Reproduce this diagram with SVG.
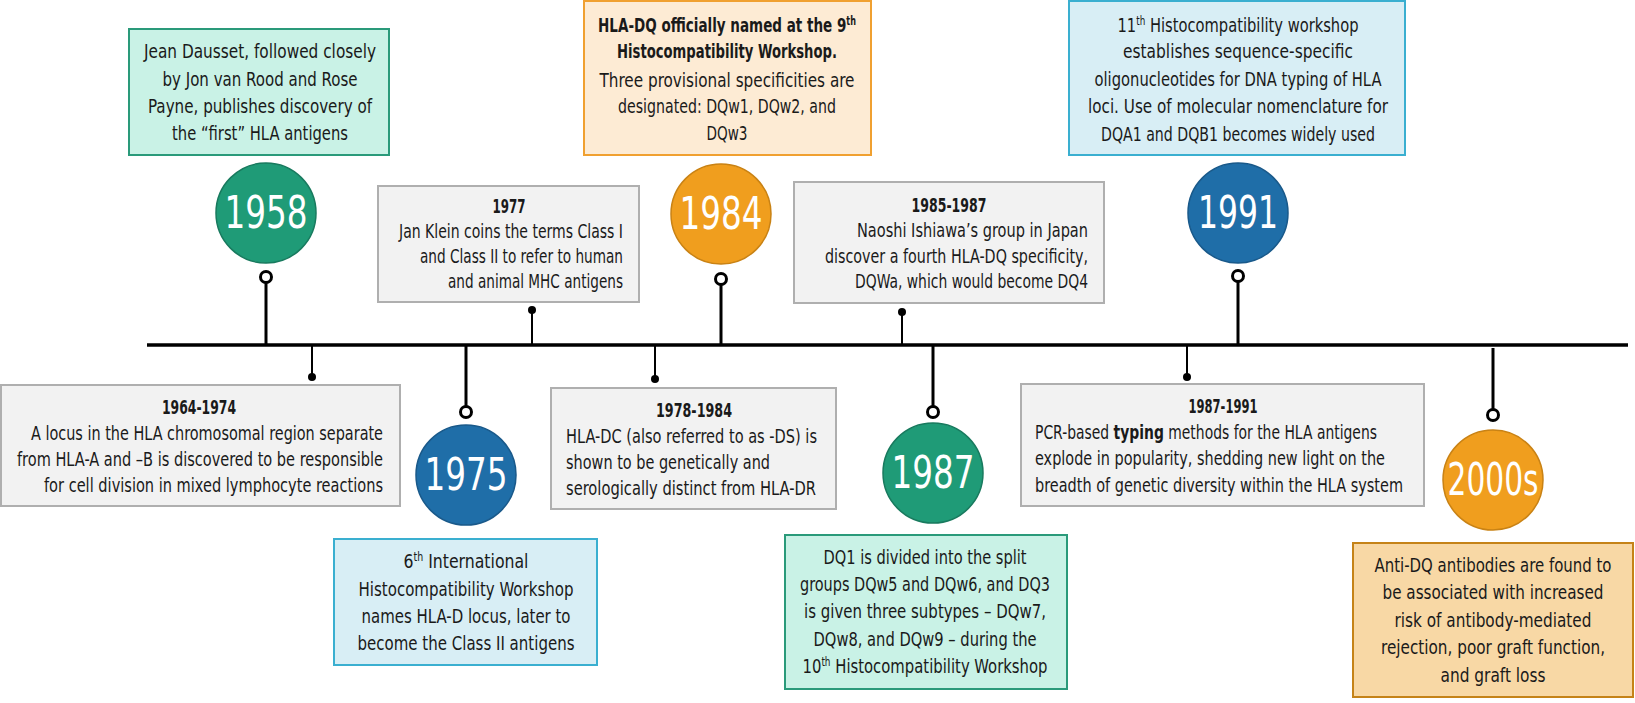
<svg xmlns="http://www.w3.org/2000/svg" width="1635" height="703" viewBox="0 0 1635 703">
<style>
text{font-family:"Liberation Sans Narrow","DejaVu Sans Condensed","Roboto",sans-serif;font-size:20px;fill:#1a1a1a}
.b{font-weight:bold}
.m{text-anchor:middle}
.e{text-anchor:end}
.yr{font-size:44px;fill:#ffffff;text-anchor:middle}
.sup{font-size:12px}
.gray{fill:#f2f2f2;stroke:#afafaf;stroke-width:2}
.gbox{fill:#c9f2e6;stroke:#2a9a7a;stroke-width:2}
.bbox{fill:#d8eef5;stroke:#3aafd0;stroke-width:2}
.obox{fill:#fdebd4;stroke:#f0a030;stroke-width:2}
.o2box{fill:#f8d8a5;stroke:#c58318;stroke-width:2}
.gc{fill:#1f9b77;stroke:#187a5e;stroke-width:1.5}
.bc{fill:#1f6ea8;stroke:#19598a;stroke-width:1.5}
.oc{fill:#f09e1e;stroke:#c98214;stroke-width:1.5}
.stem{stroke:#000;stroke-width:3;fill:none}
.thin{stroke:#000;stroke-width:2;fill:none}
.ring{fill:#fff;stroke:#000;stroke-width:3}
.dot{fill:#000}
</style>
<g id="connectors">
<line x1="147" y1="345" x2="1628" y2="345" stroke="#000" stroke-width="3.5"/>
<line class="stem" x1="266" y1="283" x2="266" y2="345"/>
<circle class="ring" cx="266" cy="277" r="5.5"/>
<line class="thin" x1="532" y1="310" x2="532" y2="345"/>
<circle class="dot" cx="532" cy="310" r="4"/>
<line class="stem" x1="721" y1="285" x2="721" y2="345"/>
<circle class="ring" cx="721" cy="279" r="5.5"/>
<line class="thin" x1="902" y1="312" x2="902" y2="345"/>
<circle class="dot" cx="902" cy="312" r="4"/>
<line class="stem" x1="1238" y1="282" x2="1238" y2="345"/>
<circle class="ring" cx="1238" cy="276" r="5.5"/>
<line class="thin" x1="312" y1="345" x2="312" y2="377"/>
<circle class="dot" cx="312" cy="377" r="4"/>
<line class="stem" x1="466" y1="345" x2="466" y2="406"/>
<circle class="ring" cx="466" cy="412" r="5.5"/>
<line class="thin" x1="655" y1="345" x2="655" y2="379"/>
<circle class="dot" cx="655" cy="379" r="4"/>
<line class="stem" x1="933" y1="345" x2="933" y2="406"/>
<circle class="ring" cx="933" cy="412" r="5.5"/>
<line class="thin" x1="1187" y1="345" x2="1187" y2="377"/>
<circle class="dot" cx="1187" cy="377" r="4"/>
<line class="stem" x1="1493" y1="348" x2="1493" y2="409"/>
<circle class="ring" cx="1493" cy="415" r="5.5"/>
</g>
<g id="n1958">
<rect class="gbox" x="129" y="29" width="260" height="126"/>
<text class="m" x="260" y="58" textLength="232" lengthAdjust="spacingAndGlyphs">Jean Dausset, followed closely</text>
<text class="m" x="260" y="86" textLength="195" lengthAdjust="spacingAndGlyphs">by Jon van Rood and Rose</text>
<text class="m" x="260" y="113" textLength="224" lengthAdjust="spacingAndGlyphs">Payne, publishes discovery of</text>
<text class="m" x="260" y="140" textLength="176" lengthAdjust="spacingAndGlyphs">the “first” HLA antigens</text>
<circle class="gc" cx="266" cy="213" r="50"/>
<text class="yr" x="266" y="228" textLength="83" lengthAdjust="spacingAndGlyphs">1958</text>
</g>
<g id="n1977">
<rect class="gray" x="378" y="186" width="261" height="116"/>
<text class="m b" x="509" y="213" textLength="33" lengthAdjust="spacingAndGlyphs">1977</text>
<text class="e" x="623" y="238" textLength="224" lengthAdjust="spacingAndGlyphs">Jan Klein coins the terms Class I</text>
<text class="e" x="623" y="263" textLength="203" lengthAdjust="spacingAndGlyphs">and Class II to refer to human</text>
<text class="e" x="623" y="288" textLength="175" lengthAdjust="spacingAndGlyphs">and animal MHC antigens</text>
</g>
<g id="n1984">
<rect class="obox" x="584" y="1" width="287" height="154"/>
<text class="m b" x="727" y="32" textLength="258" lengthAdjust="spacingAndGlyphs">HLA-DQ officially named at the 9<tspan class="sup" dy="-7">th</tspan></text>
<text class="m b" x="727" y="58" textLength="220" lengthAdjust="spacingAndGlyphs">Histocompatibility Workshop.</text>
<text class="m" x="727" y="87" textLength="255" lengthAdjust="spacingAndGlyphs">Three provisional specificities are</text>
<text class="m" x="727" y="113" textLength="218" lengthAdjust="spacingAndGlyphs">designated: DQw1, DQw2, and</text>
<text class="m" x="727" y="140" textLength="41" lengthAdjust="spacingAndGlyphs">DQw3</text>
<circle class="oc" cx="721" cy="214" r="50"/>
<text class="yr" x="721" y="229" textLength="83" lengthAdjust="spacingAndGlyphs">1984</text>
</g>
<g id="n1985">
<rect class="gray" x="794" y="182" width="310" height="121"/>
<text class="m b" x="949" y="212" textLength="75" lengthAdjust="spacingAndGlyphs">1985-1987</text>
<text class="e" x="1088" y="237" textLength="231" lengthAdjust="spacingAndGlyphs">Naoshi Ishiawa’s group in Japan</text>
<text class="e" x="1088" y="263" textLength="263" lengthAdjust="spacingAndGlyphs">discover a fourth HLA-DQ specificity,</text>
<text class="e" x="1088" y="288" textLength="233" lengthAdjust="spacingAndGlyphs">DQWa, which would become DQ4</text>
</g>
<g id="n1991">
<rect class="bbox" x="1069" y="1" width="336" height="154"/>
<text class="m" x="1238" y="32" textLength="241" lengthAdjust="spacingAndGlyphs">11<tspan class="sup" dy="-7">th</tspan><tspan dy="7"> Histocompatibility workshop</tspan></text>
<text class="m" x="1238" y="58" textLength="230" lengthAdjust="spacingAndGlyphs">establishes sequence-specific</text>
<text class="m" x="1238" y="86" textLength="287" lengthAdjust="spacingAndGlyphs">oligonucleotides for DNA typing of HLA</text>
<text class="m" x="1238" y="113" textLength="300" lengthAdjust="spacingAndGlyphs">loci. Use of molecular nomenclature for</text>
<text class="m" x="1238" y="141" textLength="274" lengthAdjust="spacingAndGlyphs">DQA1 and DQB1 becomes widely used</text>
<circle class="bc" cx="1238" cy="213" r="50"/>
<text class="yr" x="1238" y="228" textLength="80" lengthAdjust="spacingAndGlyphs">1991</text>
</g>
<g id="n1964">
<rect class="gray" x="1" y="385" width="399" height="121"/>
<text class="m b" x="199" y="414" textLength="74" lengthAdjust="spacingAndGlyphs">1964-1974</text>
<text class="e" x="383" y="440" textLength="352" lengthAdjust="spacingAndGlyphs">A locus in the HLA chromosomal region separate</text>
<text class="e" x="383" y="466" textLength="366" lengthAdjust="spacingAndGlyphs">from HLA-A and –B is discovered to be responsible</text>
<text class="e" x="383" y="492" textLength="339" lengthAdjust="spacingAndGlyphs">for cell division in mixed lymphocyte reactions</text>
</g>
<g id="n1975">
<circle class="bc" cx="466" cy="475" r="50"/>
<text class="yr" x="466" y="490" textLength="83" lengthAdjust="spacingAndGlyphs">1975</text>
<rect class="bbox" x="334" y="539" width="263" height="126"/>
<text class="m" x="466" y="568" textLength="125" lengthAdjust="spacingAndGlyphs">6<tspan class="sup" dy="-7">th</tspan><tspan dy="7"> International</tspan></text>
<text class="m" x="466" y="596" textLength="215" lengthAdjust="spacingAndGlyphs">Histocompatibility Workshop</text>
<text class="m" x="466" y="623" textLength="209" lengthAdjust="spacingAndGlyphs">names HLA-D locus, later to</text>
<text class="m" x="466" y="650" textLength="217" lengthAdjust="spacingAndGlyphs">become the Class II antigens</text>
</g>
<g id="n1978">
<rect class="gray" x="551" y="388" width="285" height="121"/>
<text class="m b" x="694" y="417" textLength="76" lengthAdjust="spacingAndGlyphs">1978-1984</text>
<text x="566" y="443" textLength="251" lengthAdjust="spacingAndGlyphs">HLA-DC (also referred to as -DS) is</text>
<text x="566" y="469" textLength="204" lengthAdjust="spacingAndGlyphs">shown to be genetically and</text>
<text x="566" y="495" textLength="250" lengthAdjust="spacingAndGlyphs">serologically distinct from HLA-DR</text>
</g>
<g id="n1987">
<circle class="gc" cx="933" cy="473" r="50"/>
<text class="yr" x="933" y="488" textLength="83" lengthAdjust="spacingAndGlyphs">1987</text>
<rect class="gbox" x="785" y="535" width="282" height="154"/>
<text class="m" x="925" y="564" textLength="203" lengthAdjust="spacingAndGlyphs">DQ1 is divided into the split</text>
<text class="m" x="925" y="591" textLength="250" lengthAdjust="spacingAndGlyphs">groups DQw5 and DQw6, and DQ3</text>
<text class="m" x="925" y="618" textLength="242" lengthAdjust="spacingAndGlyphs">is given three subtypes – DQw7,</text>
<text class="m" x="925" y="646" textLength="223" lengthAdjust="spacingAndGlyphs">DQw8, and DQw9 – during the</text>
<text class="m" x="925" y="673" textLength="245" lengthAdjust="spacingAndGlyphs">10<tspan class="sup" dy="-7">th</tspan><tspan dy="7"> Histocompatibility Workshop</tspan></text>
</g>
<g id="n1987b">
<rect class="gray" x="1021" y="384" width="403" height="122"/>
<text class="m b" x="1223" y="413" textLength="69" lengthAdjust="spacingAndGlyphs">1987-1991</text>
<text x="1035" y="439" textLength="342" lengthAdjust="spacingAndGlyphs">PCR-based <tspan class="b">typing</tspan> methods for the HLA antigens</text>
<text x="1035" y="465" textLength="350" lengthAdjust="spacingAndGlyphs">explode in popularity, shedding new light on the</text>
<text x="1035" y="492" textLength="368" lengthAdjust="spacingAndGlyphs">breadth of genetic diversity within the HLA system</text>
</g>
<g id="n2000">
<circle class="oc" cx="1493" cy="480" r="50"/>
<text class="yr" x="1493" y="495" textLength="91" lengthAdjust="spacingAndGlyphs">2000s</text>
<rect class="o2box" x="1353" y="543" width="280" height="154"/>
<text class="m" x="1493" y="572" textLength="237" lengthAdjust="spacingAndGlyphs">Anti-DQ antibodies are found to</text>
<text class="m" x="1493" y="599" textLength="221" lengthAdjust="spacingAndGlyphs">be associated with increased</text>
<text class="m" x="1493" y="627" textLength="197" lengthAdjust="spacingAndGlyphs">risk of antibody-mediated</text>
<text class="m" x="1493" y="654" textLength="224" lengthAdjust="spacingAndGlyphs">rejection, poor graft function,</text>
<text class="m" x="1493" y="682" textLength="105" lengthAdjust="spacingAndGlyphs">and graft loss</text>
</g>
</svg>
